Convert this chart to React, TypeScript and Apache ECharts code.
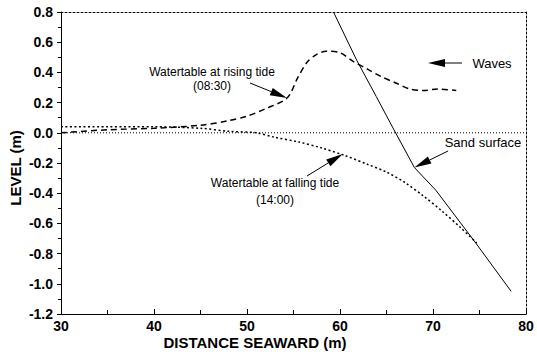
import React, { useEffect, useRef } from "react";
import * as echarts from "echarts";

// Axis ranges and ticks
const X_MIN = 30;
const X_MAX = 80;
const X_INTERVAL = 10;
const Y_MIN = -1.2;
const Y_MAX = 0.8;
const Y_INTERVAL = 0.2;

// Watertable at rising tide (08:30)
const risingX = [30, 35, 40, 45, 48, 50, 52, 54.3, 55.5, 56.5, 57.5, 58.5, 60, 61.5, 63, 64.5, 66, 67.5, 69, 70.5, 72.5];
const risingY = [0.0, 0.02, 0.03, 0.05, 0.08, 0.11, 0.16, 0.23, 0.37, 0.47, 0.52, 0.54, 0.53, 0.47, 0.42, 0.37, 0.33, 0.29, 0.28, 0.29, 0.28];

// Watertable at falling tide (14:00)
const fallingX = [30, 35, 40, 45, 48, 51, 53, 55.5, 58, 60.5, 63, 65, 67, 69, 71, 73, 74.7];
const fallingY = [0.04, 0.04, 0.04, 0.03, 0.01, 0.0, -0.03, -0.06, -0.1, -0.15, -0.21, -0.26, -0.33, -0.42, -0.52, -0.63, -0.73];

// Sand surface
const sandX = [59.3, 61.8, 63.9, 65.8, 68.0, 70.3, 74.6, 78.4];
const sandY = [0.8, 0.48, 0.24, 0.02, -0.23, -0.38, -0.73, -1.05];

// Mean water level reference
const zeroX = [30, 80];
const zeroY = [0, 0];

// Annotation anchors (data coordinates of arrow tips)
const risingTip = [54.3, 0.23];
const fallingTip = [60.3, -0.14];
const sandTip = [68.0, -0.23];

const FONT = '"Liberation Sans", Arial, Helvetica, sans-serif';

const zip = (xs: number[], ys: number[]) => xs.map((x, i) => [x, ys[i]]);

function arrow(tail: number[], tip: number[], headLen = 17, headHalf = 4) {
  const dx = tip[0] - tail[0];
  const dy = tip[1] - tail[1];
  const len = Math.hypot(dx, dy) || 1;
  const ux = dx / len;
  const uy = dy / len;
  const bx = tip[0] - ux * headLen;
  const by = tip[1] - uy * headLen;
  const px = -uy;
  const py = ux;
  return [
    {
      type: "line",
      silent: true,
      shape: { x1: tail[0], y1: tail[1], x2: bx, y2: by },
      style: { stroke: "#000", lineWidth: 1 },
    },
    {
      type: "polygon",
      silent: true,
      shape: {
        points: [
          [tip[0], tip[1]],
          [bx + px * headHalf, by + py * headHalf],
          [bx - px * headHalf, by - py * headHalf],
        ],
      },
      style: { fill: "#000" },
    },
  ];
}

function label(text: string, x: number, y: number, size: number, bold = false, rotation = 0) {
  return {
    type: "text",
    silent: true,
    x,
    y,
    rotation,
    style: {
      text,
      fill: "#000",
      fontSize: size,
      fontFamily: FONT,
      fontWeight: bold ? "bold" : "normal",
      align: "center",
      verticalAlign: "middle",
      textAlign: "center",
      textVerticalAlign: "middle",
    },
  };
}

export default function App() {
  const ref = useRef<HTMLDivElement>(null);

  useEffect(() => {
    document.body.style.margin = "0";
    if (!ref.current) return;
    const chart = echarts.init(ref.current, null, { renderer: "svg" });

    const fmt = (v: number) => (Math.abs(v) < 1e-9 ? 0 : v).toFixed(1);

    const option: any = {
      animation: false,
      backgroundColor: "#fff",
      grid: { left: 61, top: 12, right: 11, bottom: 38, containLabel: false },
      xAxis: [
        {
          type: "value",
          min: X_MIN,
          max: X_MAX,
          interval: X_INTERVAL,
          axisLine: { show: true, onZero: false, lineStyle: { color: "#000", width: 1 } },
          axisTick: { show: true, inside: true, length: 5, lineStyle: { color: "#000" } },
          minorTick: { show: true, splitNumber: 2, length: 4, lineStyle: { color: "#000" } },
          splitLine: { show: false },
          axisLabel: {
            color: "#000",
            fontSize: 14,
            fontWeight: "bold",
            fontFamily: FONT,
            margin: 5,
            showMaxLabel: true,
            showMinLabel: true,
          },
        },
        {
          type: "value",
          position: "top",
          min: X_MIN,
          max: X_MAX,
          interval: X_INTERVAL,
          axisLine: { show: true, onZero: false, lineStyle: { color: "#000", width: 1, type: [2, 2] } },
          axisTick: { show: false },
          axisLabel: { show: false },
          splitLine: { show: false },
        },
      ],
      yAxis: [
        {
          type: "value",
          min: Y_MIN,
          max: Y_MAX,
          interval: Y_INTERVAL,
          axisLine: { show: true, onZero: false, lineStyle: { color: "#000", width: 1 } },
          axisTick: { show: true, inside: false, length: 4, lineStyle: { color: "#000" } },
          minorTick: { show: true, splitNumber: 2, length: 3, lineStyle: { color: "#000" } },
          splitLine: { show: false },
          axisLabel: {
            color: "#000",
            fontSize: 14,
            fontWeight: "bold",
            fontFamily: FONT,
            margin: 8,
            formatter: fmt,
          },
        },
        {
          type: "value",
          position: "right",
          min: Y_MIN,
          max: Y_MAX,
          interval: Y_INTERVAL,
          axisLine: { show: true, onZero: false, lineStyle: { color: "#000", width: 1, type: [2, 2] } },
          axisTick: { show: false },
          axisLabel: { show: false },
          splitLine: { show: false },
        },
      ],
      series: [
        {
          name: "Zero",
          type: "line",
          data: zip(zeroX, zeroY),
          symbol: "none",
          silent: true,
          lineStyle: { color: "#000", width: 1, type: [1, 2] },
        },
        {
          name: "Watertable at rising tide (08:30)",
          type: "line",
          data: zip(risingX, risingY),
          symbol: "none",
          smooth: 0.3,
          silent: true,
          lineStyle: { color: "#000", width: 1.5, type: [6, 4] },
        },
        {
          name: "Watertable at falling tide (14:00)",
          type: "line",
          data: zip(fallingX, fallingY),
          symbol: "none",
          smooth: 0.3,
          silent: true,
          lineStyle: { color: "#000", width: 1.5, type: [2, 2.5] },
        },
        {
          name: "Sand surface",
          type: "line",
          data: zip(sandX, sandY),
          symbol: "none",
          silent: true,
          lineStyle: { color: "#000", width: 1, type: "solid" },
        },
      ],
    };

    chart.setOption(option);

    const px = (p: number[]) => chart.convertToPixel({ gridIndex: 0 }, p) as number[];
    const rt = px(risingTip);
    const ft = px(fallingTip);
    const st = px(sandTip);

    const graphic: any[] = [
      label("Watertable at rising tide", 212, 72, 12),
      label("(08:30)", 212, 86, 12),
      ...arrow([250, 83], rt),
      label("Watertable at falling tide", 275, 183, 12),
      label("(14:00)", 275, 200, 12),
      ...arrow([307, 176], ft),
      label("Sand surface", 483, 142, 13),
      ...arrow([448, 151], st),
      label("Waves", 492, 63, 13),
      ...arrow([462, 63], [428, 63]),
      label("DISTANCE SEAWARD (m)", 255, 342, 15, true),
      label("LEVEL (m)", 15, 168, 15, true, Math.PI / 2),
    ];

    chart.setOption({ graphic });

    return () => chart.dispose();
  }, []);

  return <div ref={ref} style={{ width: 537, height: 352 }} />;
}
